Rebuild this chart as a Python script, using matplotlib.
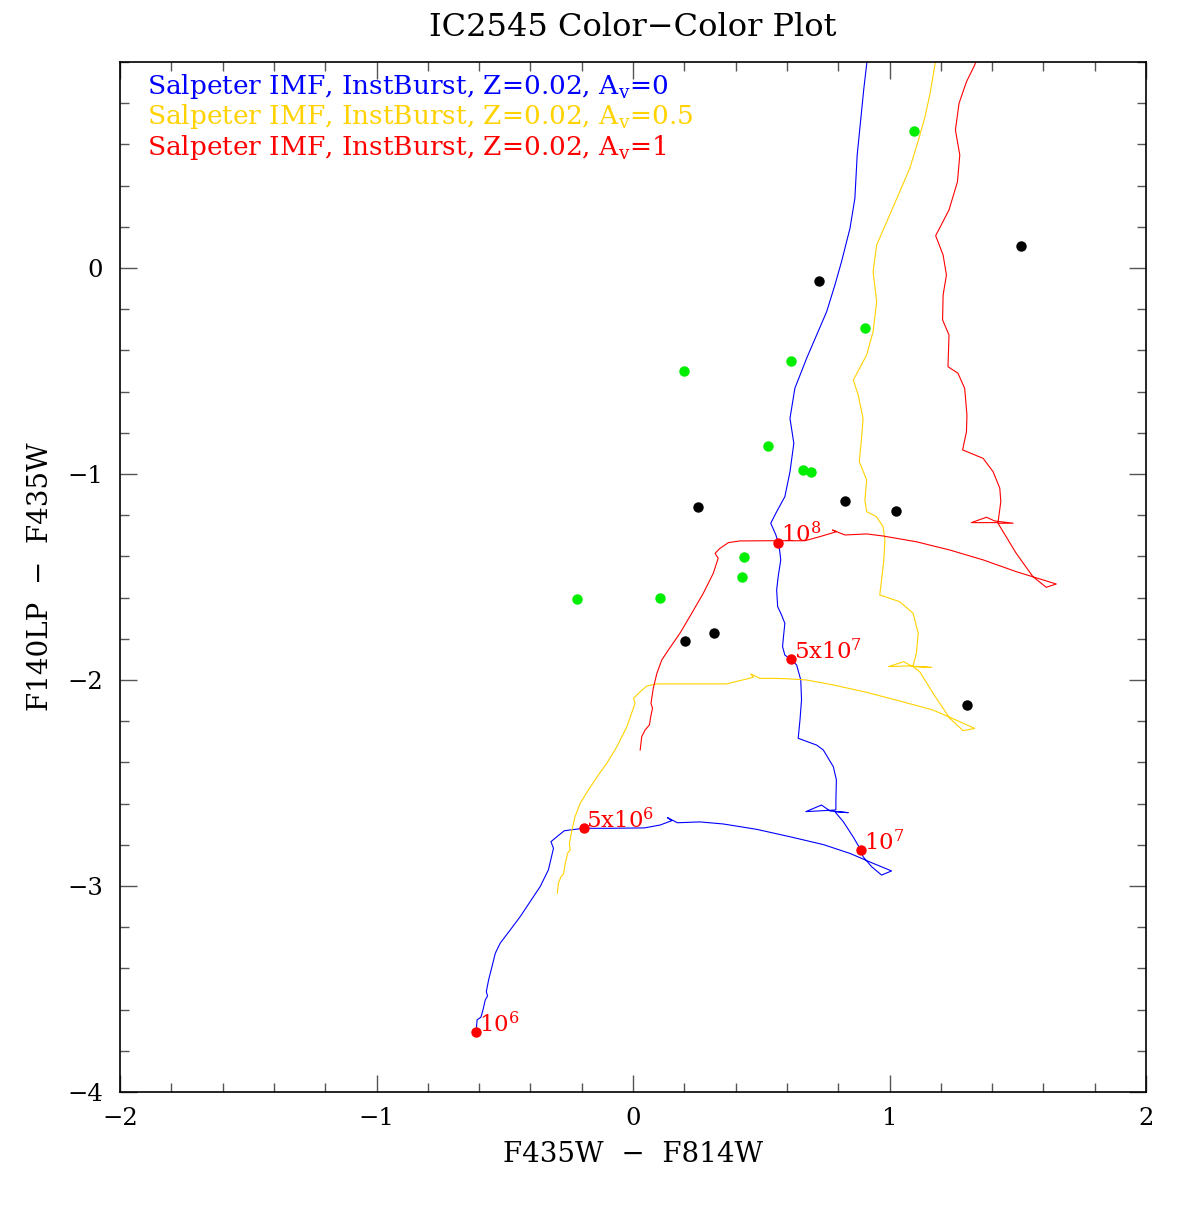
import matplotlib
matplotlib.use("Agg")
import matplotlib.pyplot as plt
from matplotlib.ticker import MultipleLocator

plt.rcParams['font.family'] = ['DejaVu Serif']
plt.rcParams['mathtext.fontset'] = 'custom'
plt.rcParams['mathtext.rm'] = 'DejaVu Serif'
plt.rcParams['mathtext.it'] = 'DejaVu Serif'

# Starburst99 tracks (F435W-F814W, F140LP-F435W), youngest age first
blue_x = [-0.613, -0.608, -0.593, -0.585, -0.576, -0.567, -0.572, -0.563, -0.550, -0.537,
          -0.518, -0.479, -0.440, -0.401, -0.362, -0.330, -0.310, -0.320, -0.297, -0.268,
          -0.245, -0.193, -0.089, 0.045, 0.106, 0.151, 0.134, 0.173, 0.261, 0.352,
          0.482, 0.612, 0.742, 0.846, 0.936, 1.008, 0.969, 0.930, 0.897, 0.888,
          0.858, 0.820, 0.787, 0.839, 0.768, 0.735, 0.674, 0.791, 0.791, 0.793,
          0.781, 0.742, 0.716, 0.644, 0.651, 0.657, 0.654, 0.638, 0.615, 0.592,
          0.583, 0.588, 0.592, 0.579, 0.564, 0.560, 0.566, 0.576, 0.570, 0.566,
          0.557, 0.537, 0.560, 0.592, 0.612, 0.627, 0.612, 0.631, 0.677, 0.716,
          0.755, 0.787, 0.813, 0.846, 0.865, 0.874, 0.887, 0.900, 0.911, 0.915]
blue_y = [-3.731, -3.650, -3.637, -3.602, -3.553, -3.534, -3.513, -3.456, -3.392, -3.327,
          -3.278, -3.214, -3.149, -3.076, -3.003, -2.922, -2.817, -2.785, -2.761, -2.732,
          -2.728, -2.720, -2.720, -2.718, -2.704, -2.683, -2.668, -2.693, -2.689, -2.699,
          -2.725, -2.761, -2.799, -2.842, -2.890, -2.927, -2.947, -2.906, -2.858, -2.825,
          -2.761, -2.688, -2.639, -2.644, -2.636, -2.607, -2.639, -2.631, -2.583, -2.485,
          -2.421, -2.340, -2.316, -2.283, -2.194, -2.097, -2.000, -1.927, -1.900, -1.879,
          -1.838, -1.773, -1.725, -1.684, -1.644, -1.563, -1.498, -1.417, -1.353, -1.333,
          -1.296, -1.239, -1.183, -1.110, -0.989, -0.851, -0.730, -0.584, -0.438, -0.325,
          -0.212, -0.083, 0.031, 0.193, 0.338, 0.549, 0.710, 0.872, 0.989, 1.030]

yellow_x = [-0.295, -0.291, -0.281, -0.271, -0.264, -0.255, -0.245, -0.248, -0.238, -0.226,
            -0.206, -0.174, -0.135, -0.102, -0.063, -0.024, 0.008, 0.002, 0.028, 0.054,
            0.093, 0.222, 0.365, 0.417, 0.469, 0.459, 0.495, 0.547, 0.599, 0.677,
            0.781, 0.911, 1.040, 1.170, 1.235, 1.332, 1.287, 1.235, 1.170, 1.118,
            1.092, 1.164, 1.086, 1.056, 0.996, 1.092, 1.105, 1.112, 1.092, 1.040,
            0.962, 0.969, 0.978, 0.982, 0.975, 0.949, 0.911, 0.904, 0.911, 0.882,
            0.891, 0.897, 0.878, 0.859, 0.911, 0.936, 0.950, 0.936, 0.950, 0.995,
            1.040, 1.079, 1.111, 1.137, 1.157, 1.177, 1.183]
yellow_y = [-3.035, -2.987, -2.955, -2.942, -2.890, -2.841, -2.825, -2.793, -2.728, -2.663,
            -2.599, -2.534, -2.461, -2.404, -2.324, -2.227, -2.113, -2.089, -2.057, -2.029,
            -2.019, -2.019, -2.019, -2.003, -1.987, -1.971, -1.992, -1.992, -1.994, -2.000,
            -2.024, -2.060, -2.102, -2.146, -2.181, -2.235, -2.246, -2.186, -2.065, -1.960,
            -1.935, -1.939, -1.933, -1.911, -1.935, -1.931, -1.870, -1.773, -1.676, -1.620,
            -1.587, -1.515, -1.417, -1.320, -1.256, -1.207, -1.183, -1.126, -1.029, -0.940,
            -0.827, -0.730, -0.617, -0.544, -0.422, -0.309, -0.163, -0.018, 0.112, 0.241,
            0.371, 0.484, 0.613, 0.727, 0.840, 0.985, 1.030]

red_x = [0.028, 0.034, 0.047, 0.064, 0.069, 0.076, 0.070, 0.079, 0.093, 0.112,
         0.138, 0.183, 0.229, 0.274, 0.313, 0.332, 0.320, 0.339, 0.372, 0.417,
         0.521, 0.670, 0.729, 0.793, 0.778, 0.826, 0.911, 0.975, 1.105, 1.235,
         1.365, 1.494, 1.650, 1.611, 1.559, 1.494, 1.423, 1.482, 1.410, 1.378,
         1.319, 1.423, 1.434, 1.430, 1.404, 1.365, 1.285, 1.300, 1.302, 1.293,
         1.267, 1.228, 1.232, 1.207, 1.209, 1.222, 1.209, 1.180, 1.232, 1.265,
         1.274, 1.257, 1.271, 1.300, 1.332, 1.345]
red_y = [-2.340, -2.275, -2.243, -2.218, -2.178, -2.138, -2.113, -2.040, -1.968, -1.903,
         -1.854, -1.773, -1.676, -1.579, -1.482, -1.409, -1.385, -1.361, -1.333, -1.325,
         -1.324, -1.324, -1.304, -1.280, -1.272, -1.296, -1.291, -1.301, -1.329, -1.369,
         -1.417, -1.474, -1.534, -1.550, -1.498, -1.385, -1.239, -1.239, -1.228, -1.210,
         -1.236, -1.236, -1.134, -1.069, -0.989, -0.924, -0.883, -0.795, -0.714, -0.584,
         -0.511, -0.479, -0.325, -0.252, -0.131, -0.034, 0.063, 0.157, 0.282, 0.419,
         0.549, 0.670, 0.799, 0.904, 0.985, 1.030]

# age markers on the Av=0 track
age_x = [-0.612, -0.193, 0.888, 0.615, 0.566]
age_y = [-3.710, -2.720, -2.825, -1.900, -1.333]
age_labels = [r'10$^{6}$', r'5x10$^{6}$', r'10$^{7}$', r'5x10$^{7}$', r'10$^{8}$']

# IC2545 clusters
green_x = [1.094, 0.904, 0.615, 0.199, 0.525, 0.664, 0.694, 0.434, 0.425, 0.104, -0.218]
green_y = [0.667, -0.293, -0.451, -0.500, -0.862, -0.981, -0.992, -1.403, -1.502, -1.600, -1.607]
black_x = [1.514, 0.725, 0.255, 0.825, 1.025, 0.315, 0.204, 1.304]
black_y = [0.107, -0.063, -1.162, -1.129, -1.180, -1.770, -1.811, -2.121]

legend_labels = [r'Salpeter IMF, InstBurst, Z=0.02, A$_\mathrm{v}$=0',
                 r'Salpeter IMF, InstBurst, Z=0.02, A$_\mathrm{v}$=0.5',
                 r'Salpeter IMF, InstBurst, Z=0.02, A$_\mathrm{v}$=1']
track_colors = ['#0000ff', '#ffd200', '#ff0000']

fig = plt.figure(figsize=(11.92, 12.09), dpi=100)
ax = fig.add_axes([0.1007, 0.0968, 0.8607, 0.8519])

for tx, ty, c in zip([blue_x, yellow_x, red_x], [blue_y, yellow_y, red_y], track_colors):
    ax.plot(tx, ty, color=c, lw=0.8, clip_on=True)

ax.plot(green_x, green_y, 'o', color='#00ee00', ms=7.5, mec='none')
ax.plot(black_x, black_y, 'o', color='black', ms=7.5, mec='none')
ax.plot(age_x, age_y, 'o', color='#ff0000', ms=7.5, mec='none', zorder=5)
for x, y, lab in zip(age_x, age_y, age_labels):
    ax.annotate(lab, (x, y), xytext=(2.0, 0), textcoords='offset points',
                ha='left', va='baseline', color='#ff0000', fontsize=16.5)

for i, (lab, c) in enumerate(zip(legend_labels, track_colors)):
    ax.text(0.0263, 0.969 - 0.0295 * i, lab, transform=ax.transAxes, color=c,
            fontsize=19, ha='left', va='baseline')

ax.set_xlim(-2, 2)
ax.set_ylim(-4, 1)
ax.set_xticks([-2, -1, 0, 1, 2])
ax.set_yticks([-4, -3, -2, -1, 0])
ax.xaxis.set_minor_locator(MultipleLocator(0.2))
ax.yaxis.set_minor_locator(MultipleLocator(0.2))
ax.tick_params(which='both', direction='in', top=True, right=True, color='#555555', width=1.0)
ax.tick_params(which='major', length=12, labelsize=17.5)
ax.tick_params(which='minor', length=6.5)
ax.tick_params(axis='x', pad=11)
ax.tick_params(axis='y', pad=12)
for s in ax.spines.values():
    s.set_linewidth(1.2)

ax.set_xlabel('F435W  \u2212  F814W', fontsize=20, labelpad=8)
ax.set_ylabel('F140LP  \u2212  F435W', fontsize=20, labelpad=10)
ax.set_title('IC2545 Color\u2212Color Plot', fontsize=23, pad=19)

fig.savefig('out.png', dpi=100)
